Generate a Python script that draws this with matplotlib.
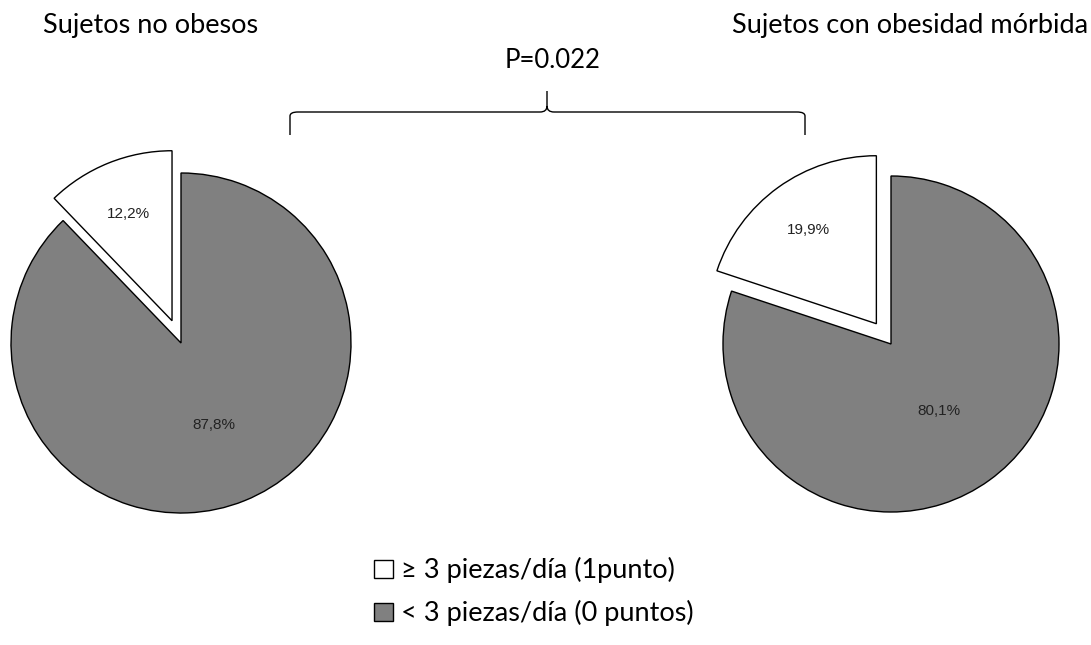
import numpy as np
import matplotlib.pyplot as plt
from matplotlib.path import Path
from matplotlib.patches import PathPatch

# data
groups = ['Sujetos no obesos', 'Sujetos con obesidad mórbida']
categories = ['≥ 3 piezas/día (1punto)', '< 3 piezas/día (0 puntos)']
no_obesos = [12.2, 87.8]
obesidad_morbida = [19.9, 80.1]
p_value = 'P=0.022'

colors = ['white', '#808080']
W, H = 1091, 645
TXT = 'Lato'
FS = 19.5

fig = plt.figure(figsize=(W / 100, H / 100), dpi=100)
ax = fig.add_axes([0, 0, 1, 1])


def draw_pie(vals, cx, cy, r, expl, dists):
    # cy given from the top edge, like in the picture
    wedges, _, autotexts = ax.pie(
        vals, colors=colors, startangle=90, center=(cx, H - cy), radius=r,
        explode=[expl, 0], frame=True,
        autopct=lambda p: f'{p:.1f}%'.replace('.', ','),
        wedgeprops=dict(edgecolor='black', linewidth=1.0),
        textprops=dict(family='Liberation Sans', fontsize=11, color='#222222'))
    # move the percent labels, each slice has its own distance
    for w, t, d in zip(wedges, autotexts, dists):
        ang = np.deg2rad((w.theta1 + w.theta2) / 2)
        t.set_position((w.center[0] + d * r * np.cos(ang),
                        w.center[1] + d * r * np.sin(ang)))
    return wedges


wl = draw_pie(no_obesos, 181, 343, 170, 24, [0.68, 0.52])
wr = draw_pie(obesidad_morbida, 891, 344, 168, 25, [0.69, 0.49])

ax.set_xlim(0, W)
ax.set_ylim(0, H)
ax.set_aspect('equal')
ax.axis('off')

# titles
ax.text(43, H - 25, groups[0], ha='left', va='center', fontsize=FS, family=TXT)
ax.text(1088, H - 25, groups[1], ha='right', va='center', fontsize=FS, family=TXT)
ax.text(553, H - 60, p_value, ha='center', va='center', fontsize=18.5, family=TXT)

# curly brace
x0, x1, xm = 290, 805, 547
yb, yh, yt = H - 135, H - 112, H - 91
verts = [(x0, yb), (x0, yh - 4), (x0, yh), (x0 + 8, yh),
         (xm - 7, yh), (xm, yh), (xm, yh + 6), (xm, yt),
         (xm, yh + 6), (xm, yh), (xm + 7, yh),
         (x1 - 8, yh), (x1, yh), (x1, yh - 4), (x1, yb)]
codes = [Path.MOVETO, Path.LINETO, Path.CURVE3, Path.CURVE3,
         Path.LINETO, Path.CURVE3, Path.CURVE3, Path.LINETO,
         Path.MOVETO, Path.CURVE3, Path.CURVE3,
         Path.LINETO, Path.CURVE3, Path.CURVE3, Path.LINETO]
ax.add_patch(PathPatch(Path(verts, codes), fill=False, lw=1.0, color='black'))

# legend
ax.legend(wl, categories, loc='upper left', bbox_to_anchor=(350 / W, 1 - 533 / H),
          frameon=False, handlelength=0.68, handleheight=0.68, handletextpad=0.3,
          labelspacing=0.62, prop=dict(family=TXT, size=FS))

fig.savefig('out.png', dpi=100)
